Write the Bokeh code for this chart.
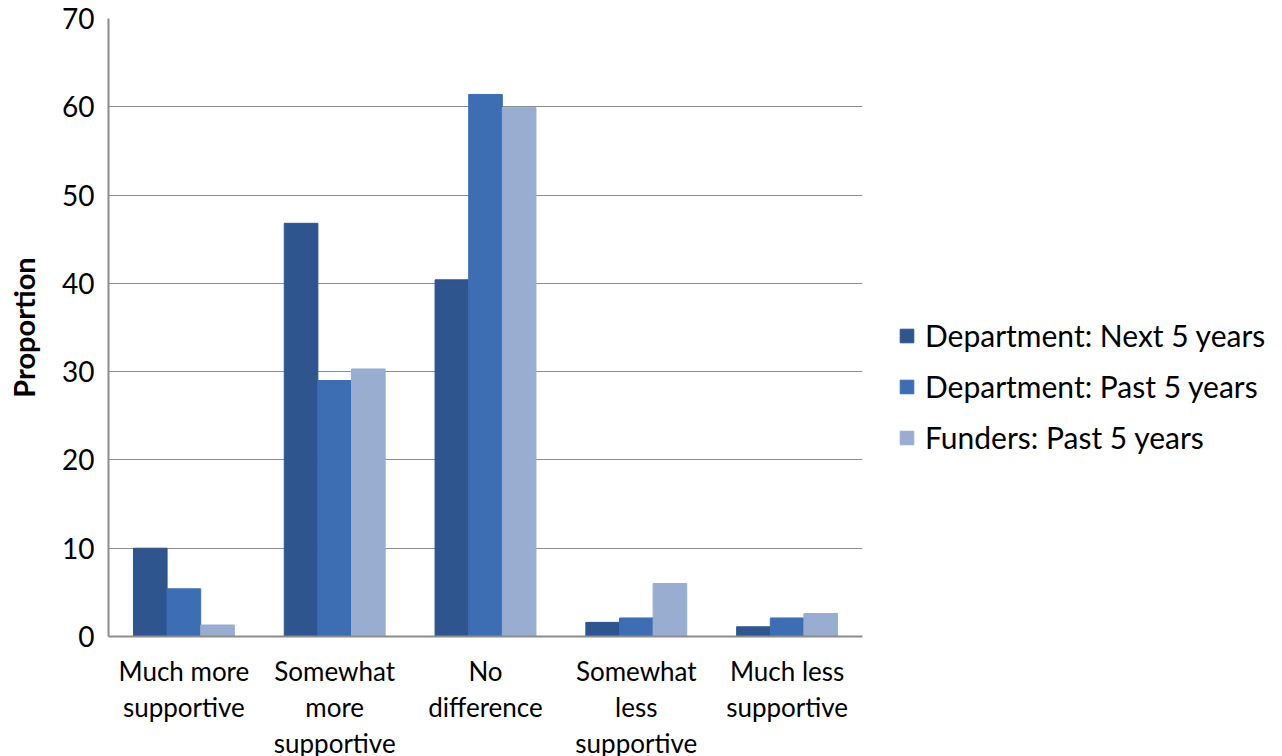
from bokeh.plotting import figure
from bokeh.models import Legend, LegendItem, Range1d, LinearAxis, FixedTicker
from bokeh.embed import file_html
from bokeh.resources import INLINE

categories = ["Much more supportive", "Somewhat more supportive", "No difference",
              "Somewhat less supportive", "Much less supportive"]
# category labels, one list per text line
label_line1 = ["Much more", "Somewhat", "No", "Somewhat", "Much less"]
label_line2 = ["supportive", "more", "difference", "less", "supportive"]
label_line3 = ["", "supportive", "", "supportive", ""]
series_names = ["Department: Next 5 years", "Department: Past 5 years", "Funders: Past 5 years"]
dept_next = [10.0, 46.8, 40.4, 1.6, 1.1]
dept_past = [5.4, 29.0, 61.4, 2.1, 2.1]
funders_past = [1.3, 30.3, 59.9, 6.0, 2.6]
y_ticks = [0, 10, 20, 30, 40, 50, 60, 70]

colors = ["#2e558e", "#3d6eb3", "#98adcf"]
FONT = "Lato"

# each category occupies one unit on the x scale, centred on i + 0.5
centers = [i + 0.5 for i in range(len(categories))]
bw = 0.223

p = figure(x_range=Range1d(0, len(categories)), y_range=Range1d(0, 70),
           frame_width=754, frame_height=618, output_backend="svg", toolbar_location=None,
           x_axis_type=None,
           min_border_left=108, min_border_top=18, min_border_bottom=0, min_border_right=0,
           outline_line_color=None, background_fill_color="white", border_fill_color="white")

renderers = []
for values, off, col in zip([dept_next, dept_past, funders_past], [-bw, 0, bw], colors):
    xs = [c + off for c in centers]
    r = p.vbar(x=xs, top=values, width=bw, fill_color=col, line_color=col)
    renderers.append(r)

# x axis: first text line on the main axis, further lines on stacked axes
for i, lines in enumerate((label_line1, label_line2, label_line3)):
    ax = LinearAxis(ticker=FixedTicker(ticks=centers),
                    major_label_overrides=dict(zip(centers, lines)),
                    axis_line_color="#8c8c8c" if i == 0 else None, axis_line_width=2,
                    major_tick_line_color=None, minor_tick_line_color=None,
                    major_label_standoff=12 if i == 0 else -5,
                    major_label_text_font=FONT, major_label_text_font_size="26px",
                    major_label_text_color="black")
    p.add_layout(ax, "below")

p.yaxis.ticker = y_ticks
p.yaxis.major_tick_line_color = None
p.yaxis.minor_tick_line_color = None
p.yaxis.axis_line_color = "#8c8c8c"
p.yaxis.axis_line_width = 2
p.yaxis.major_label_text_font = FONT
p.yaxis.major_label_text_font_size = "28px"
p.yaxis.major_label_text_color = "black"
p.yaxis.major_label_standoff = 8
p.yaxis.axis_label = "Proportion"
p.yaxis.axis_label_text_font = FONT
p.yaxis.axis_label_text_font_style = "bold"
p.yaxis.axis_label_text_font_size = "29px"
p.yaxis.axis_label_text_color = "black"
p.yaxis.axis_label_standoff = 18

p.xgrid.grid_line_color = None
p.ygrid.grid_line_color = "#8c8c8c"
p.ygrid.grid_line_width = 1

legend = Legend(items=[LegendItem(label=n, renderers=[r]) for n, r in zip(series_names, renderers)],
                location=(36, 181), border_line_color=None, background_fill_alpha=0,
                padding=0, margin=0,
                label_text_font=FONT, label_text_font_size="30px", label_text_color="black",
                glyph_width=17, glyph_height=17, spacing=15, label_standoff=10)
p.add_layout(legend, "right")

open("out.html", "w").write(file_html(p, INLINE))
